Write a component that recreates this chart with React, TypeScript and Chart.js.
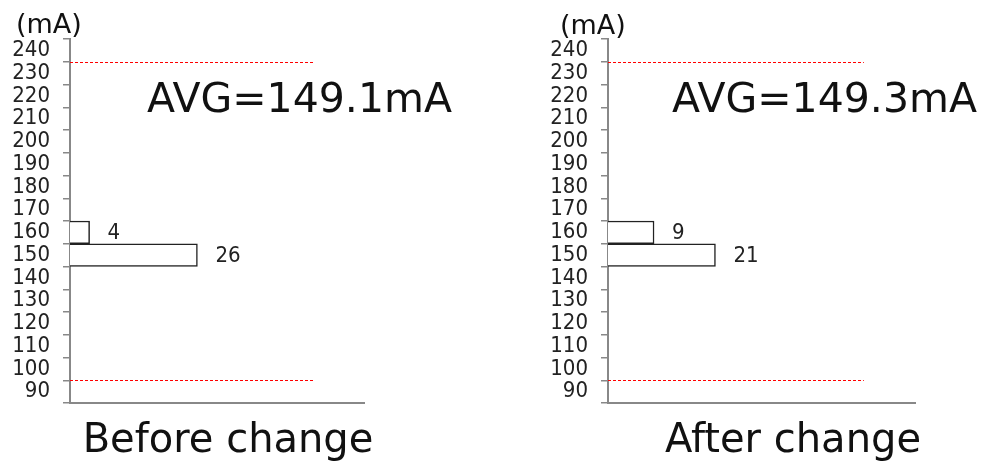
import React, { useEffect, useRef } from "react";
import { Chart, registerables } from "chart.js";

Chart.register(...registerables);

// ---- data ----
const categories = ["240", "230", "220", "210", "200", "190", "180", "170", "160", "150", "140", "130", "120", "110", "100", "90"];
const beforeCounts = [null, null, null, null, null, null, null, null, 4, 26, null, null, null, null, null, null];
const afterCounts = [null, null, null, null, null, null, null, null, 9, 21, null, null, null, null, null, null];
const limitValues = [230, 90];
const limitLineExtent = 50;
const countAxisMax = 60;
const avgBefore = "AVG=149.1mA";
const avgAfter = "AVG=149.3mA";
const titleBefore = "Before change";
const titleAfter = "After change";
const unitLabel = "(mA)";

const TICK_FONT = "'Liberation Sans Narrow', 'DejaVu Sans Condensed', 'Arial Narrow', sans-serif";
const TEXT_FONT = "'DejaVu Sans', Verdana, sans-serif";

const limitPlugin = {
  id: "limitLines",
  afterDatasetsDraw(chart: any) {
    const y = chart.scales.y;
    const x = chart.scales.x;
    const labels: string[] = chart.data.labels;
    const ctx = chart.ctx;
    ctx.save();
    ctx.strokeStyle = "#ff0000";
    ctx.lineWidth = 1;
    ctx.setLineDash([3, 2]);
    for (const v of limitValues) {
      const a = labels.indexOf(String(v + 10));
      const b = labels.indexOf(String(v));
      if (a < 0 || b < 0) continue;
      const py = Math.round((y.getPixelForValue(a) + y.getPixelForValue(b)) / 2) + 0.5;
      ctx.beginPath();
      ctx.moveTo(x.getPixelForValue(0), py);
      ctx.lineTo(x.getPixelForValue(limitLineExtent), py);
      ctx.stroke();
    }
    ctx.restore();
  },
};

const valueLabelPlugin = {
  id: "valueLabels",
  afterDatasetsDraw(chart: any) {
    const ctx = chart.ctx;
    ctx.save();
    ctx.fillStyle = "#222";
    ctx.font = `22px ${TICK_FONT}`;
    ctx.textAlign = "left";
    ctx.textBaseline = "middle";
    chart.data.datasets.forEach((ds: any, di: number) => {
      const meta = chart.getDatasetMeta(di);
      meta.data.forEach((el: any, i: number) => {
        const v = ds.data[i];
        if (v === null || v === undefined) return;
        ctx.fillText(String(v), el.x + 18, el.y + 1);
      });
    });
    ctx.restore();
  },
};

type HistProps = {
  counts: (number | null)[];
  left: number;
  width: number;
  axisWidth: number;
  padRight: number;
};

function Histogram({ counts, left, width, axisWidth, padRight }: HistProps) {
  const ref = useRef<HTMLCanvasElement | null>(null);
  useEffect(() => {
    if (!ref.current) return;
    const chart = new Chart(ref.current, {
      type: "bar",
      data: {
        labels: categories,
        datasets: [
          {
            data: counts as any,
            backgroundColor: "#ffffff",
            borderColor: "#222222",
            borderWidth: 1.5,
            barPercentage: 1,
            categoryPercentage: 1,
          },
        ],
      },
      options: {
        indexAxis: "y",
        responsive: false,
        animation: false,
        events: [],
        layout: { padding: { top: 39, bottom: 59, left: 0, right: padRight } },
        plugins: { legend: { display: false }, tooltip: { enabled: false }, title: { display: false } },
        scales: {
          y: {
            type: "category",
            offset: true,
            grid: { display: true, drawOnChartArea: false, drawTicks: true, tickLength: 7, color: "#888", lineWidth: 1.5, offset: true },
            border: { display: true, color: "#888", width: 2 },
            ticks: { autoSkip: false, padding: 13, color: "#222", font: { family: TICK_FONT, size: 22 } },
            afterFit: (s: any) => {
              s.width = axisWidth;
            },
          },
          x: {
            min: 0,
            max: countAxisMax,
            grid: { display: false, drawTicks: false },
            border: { display: true, color: "#888", width: 2 },
            ticks: { display: false },
            afterFit: (s: any) => {
              s.height = 0;
            },
          },
        },
      } as any,
      plugins: [limitPlugin, valueLabelPlugin],
    });
    return () => chart.destroy();
  }, []);
  return (
    <canvas
      ref={ref}
      width={width}
      height={462}
      style={{ position: "absolute", left, top: 0, width, height: 462 }}
    />
  );
}

const textBase: React.CSSProperties = {
  position: "absolute",
  fontFamily: TEXT_FONT,
  color: "#111",
  whiteSpace: "nowrap",
  lineHeight: 1,
};

export default function App() {
  return (
    <div style={{ position: "absolute", left: 0, top: 0, width: 987, height: 462, background: "#fff", overflow: "hidden" }}>
      <Histogram counts={beforeCounts} left={0} width={480} axisWidth={70} padRight={116} />
      <Histogram counts={afterCounts} left={540} width={447} axisWidth={68} padRight={72} />
      <div style={{ ...textBase, left: 16, top: 10, fontSize: 27 }}>{unitLabel}</div>
      <div style={{ ...textBase, left: 560, top: 11, fontSize: 27 }}>{unitLabel}</div>
      <div style={{ ...textBase, left: 147, top: 78, fontSize: 41 }}>{avgBefore}</div>
      <div style={{ ...textBase, left: 672, top: 78, fontSize: 41 }}>{avgAfter}</div>
      <div style={{ ...textBase, left: 228, top: 418, fontSize: 40, transform: "translateX(-50%)" }}>{titleBefore}</div>
      <div style={{ ...textBase, left: 793, top: 418, fontSize: 40, transform: "translateX(-50%)" }}>{titleAfter}</div>
    </div>
  );
}
